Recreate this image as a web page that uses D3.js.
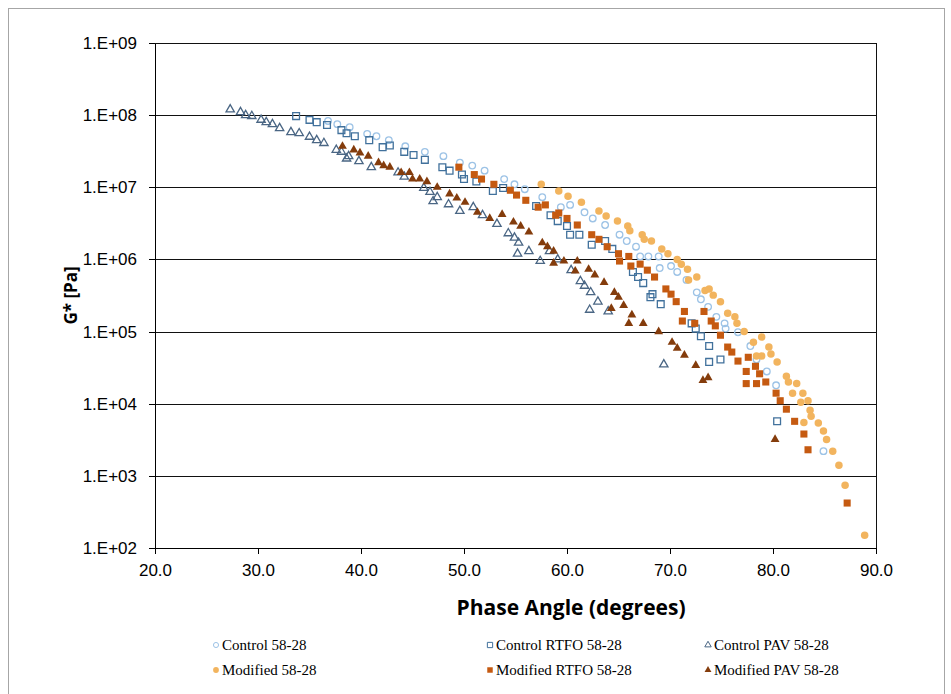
<!DOCTYPE html>
<meta charset="utf-8">
<html>
<head>
<script src="https://d3js.org/d3.v7.min.js" charset="utf-8"></script>
<style type="text/css">
    body { margin: 0; background: #fff; }
    .axis path, .axis line { fill: none; stroke: #000; shape-rendering: crispEdges; }
    .axis text { font-family: "Liberation Sans", Arial, sans-serif; font-size: 17px; fill: #000; }
    .grid line { stroke: #111; shape-rendering: crispEdges; }
    .grid path { display: none; }
    .legend text { font-family: "Liberation Serif", "Times New Roman", serif; font-size: 15px; fill: #000; }
</style>
</head>
<body>
<div id="chart"></div>
<script type="text/javascript">

// [phase angle (deg), G* (Pa)]
var control = [[36.8,8.3e7],[37.7,7.5e7],[38.9,6.8e7],[40.6,5.5e7],[41.5,5.1e7],[42.7,4.5e7],[44.3,3.7e7],[46.2,3.1e7],
    [48.0,2.7e7],[49.6,2.2e7],[50.8,2.0e7],[52.0,1.7e7],[53.9,1.3e7],[54.9,1.1e7],[55.9,9.4e6],[57.6,7.3e6],[59.4,5.3e6],
    [60.3,5.7e6],[61.7,4.5e6],[62.5,3.7e6],[63.7,3.0e6],[65.1,2.2e6],[65.8,1.8e6],[66.7,1.5e6],[67.1,1.1e6],[67.9,1.1e6],
    [68.9,1.1e6],[69.0,7.6e5],[70.1,8.1e5],[70.7,6.7e5],[71.6,5.2e5],[72.6,3.5e5],[73.0,2.8e5],[73.7,2.2e5],[74.5,1.6e5],
    [75.3,1.3e5],[75.4,1.1e5],[76.6,9.8e4],[77.8,6.3e4],[78.4,4.1e4],[79.4,2.8e4],[80.3,1.8e4],[84.9,2.2e3]];

var controlRTFO = [[33.7,9.7e7],[35.0,8.6e7],[35.7,8.0e7],[36.7,7.3e7],[38.1,6.2e7],[38.6,5.6e7],[39.4,5.1e7],[40.8,4.5e7],
    [42.1,3.6e7],[42.8,3.8e7],[44.2,3.1e7],[45.1,2.8e7],[46.2,2.4e7],[47.9,1.9e7],[48.6,1.7e7],[49.8,1.5e7],[50.0,1.3e7],
    [51.2,1.2e7],[52.8,8.9e6],[53.8,9.8e6],[57.0,5.5e6],[58.4,4.1e6],[59.1,3.4e6],[60.0,2.9e6],[60.3,2.2e6],[61.2,2.2e6],
    [62.4,1.6e6],[63.7,1.8e6],[64.4,1.4e6],[66.4,6.7e5],[66.9,5.7e5],[67.4,4.7e5],[68.1,3.0e5],[68.3,3.3e5],[69.1,2.4e5],
    [72.1,1.3e5],[72.5,1.1e5],[73.0,8.6e4],[73.8,6.3e4],[73.8,3.8e4],[74.9,4.1e4],[80.4,5.7e3]];

var controlPAV = [[27.3,1.2e8],[28.3,1.1e8],[28.8,1.0e8],[29.4,9.7e7],[30.3,8.6e7],[30.8,8.0e7],[31.4,7.5e7],[32.1,6.6e7],
    [33.2,5.8e7],[34.0,5.6e7],[35.0,5.0e7],[35.7,4.5e7],[36.4,4.1e7],[37.6,3.3e7],[38.1,3.1e7],[38.6,2.5e7],[38.8,2.7e7],
    [39.8,2.3e7],[41.0,1.9e7],[43.6,1.6e7],[44.2,1.4e7],[46.1,9.8e6],[46.7,8.6e6],[47.0,6.4e6],[47.4,7.3e6],[48.5,5.8e6],
    [49.6,4.7e6],[50.9,5.3e6],[51.8,4.1e6],[53.2,3.1e6],[54.3,2.3e6],[54.9,2.0e6],[55.3,1.7e6],[56.3,1.3e6],[55.2,1.2e6],
    [57.4,9.5e5],[58.3,1.3e6],[59.1,1.0e6],[60.4,7.1e5],[61.3,5.0e5],[61.7,4.3e5],[62.3,3.5e5],[63.0,2.6e5],[62.2,2.0e5],
    [64.0,1.9e5],[69.4,3.5e4]];

var modified = [[57.5,1.1e7],[59.2,8.9e6],[60.1,7.5e6],[61.4,6.2e6],[63.1,4.7e6],[63.8,4.0e6],[64.9,3.4e6],[65.9,2.9e6],
    [66.1,2.5e6],[67.3,2.2e6],[67.5,1.9e6],[68.2,1.8e6],[69.2,1.4e6],[69.8,1.2e6],[70.7,1.0e6],[71.1,8.6e5],[71.7,7.3e5],
    [71.8,5.2e5],[72.6,5.7e5],[73.4,3.7e5],[73.8,3.9e5],[74.2,3.2e5],[74.9,2.6e5],[75.6,1.8e5],[76.3,1.6e5],[76.5,1.3e5],
    [77.2,1.0e5],[78.1,7.1e4],[78.9,8.4e4],[79.6,6.1e4],[78.4,4.6e4],[78.9,4.6e4],[79.8,4.9e4],[80.4,3.8e4],[81.3,2.4e4],
    [81.5,2.0e4],[82.3,1.9e4],[81.9,1.4e4],[82.9,1.4e4],[83.4,1.1e4],[82.7,1.05e4],[83.6,8.1e3],[83.7,6.7e3],[83.0,5.5e3],
    [84.4,5.4e3],[84.9,4.2e3],[85.2,3.2e3],[85.8,2.2e3],[86.4,1.4e3],[87.0,7.4e2],[88.9,1.5e2]];

var modifiedRTFO = [[49.5,1.9e7],[51.0,1.5e7],[51.7,1.3e7],[52.9,1.1e7],[54.5,9.1e6],[55.1,7.8e6],[56.0,6.6e6],[57.2,5.3e6],
    [57.9,5.7e6],[58.9,4.1e6],[59.2,4.4e6],[60.0,3.7e6],[61.0,3.0e6],[62.4,2.2e6],[63.1,1.9e6],[63.9,1.5e6],[65.0,1.2e6],
    [66.0,1.1e6],[65.1,9.5e5],[66.2,8.1e5],[67.1,8.6e5],[67.8,7.1e5],[68.5,5.7e5],[69.6,3.9e5],[70.1,3.3e5],[70.6,2.6e5],
    [71.4,1.9e5],[71.2,1.4e5],[72.4,1.3e5],[73.3,1.9e5],[74.0,1.4e5],[74.4,1.2e5],[74.9,8.9e4],[75.6,6.1e4],[76.0,5.2e4],
    [76.6,3.9e4],[77.6,4.4e4],[77.4,2.8e4],[78.3,3.3e4],[78.7,2.6e4],[77.4,1.9e4],[78.4,1.9e4],[79.3,2.0e4],[80.3,1.4e4],
    [80.7,1.1e4],[81.3,8.4e3],[82.1,5.7e3],[83.0,3.8e3],[83.4,2.3e3],[87.2,4.2e2]];

var modifiedPAV = [[38.2,3.7e7],[39.3,3.3e7],[39.9,3.0e7],[40.7,2.7e7],[41.7,2.2e7],[42.2,2.0e7],[42.8,1.9e7],[43.9,1.6e7],
    [44.7,1.6e7],[45.0,1.3e7],[45.7,1.3e7],[46.4,1.2e7],[47.4,1.0e7],[48.6,8.1e6],[49.3,7.1e6],[50.1,6.2e6],[51.3,4.5e6],
    [52.5,3.7e6],[53.7,4.2e6],[54.8,3.3e6],[55.5,2.9e6],[56.3,2.4e6],[57.6,1.7e6],[58.1,1.5e6],[58.7,1.3e6],[58.7,8.9e5],
    [59.7,9.5e5],[61.0,9.5e5],[60.8,6.9e5],[62.1,7.3e5],[62.7,6.1e5],[63.6,4.8e5],[64.6,3.5e5],[65.0,3.0e5],[65.5,2.3e5],
    [64.3,2.1e5],[66.3,1.7e5],[66.0,1.3e5],[67.4,1.3e5],[68.9,1.0e5],[70.2,7.1e4],[70.7,5.9e4],[71.4,4.7e4],[72.5,3.4e4],
    [73.7,2.3e4],[73.2,2.1e4],[80.2,3.2e3]];

var seriesNames = ["Control 58-28", "Control RTFO 58-28", "Control PAV 58-28",
                   "Modified 58-28", "Modified RTFO 58-28", "Modified PAV 58-28"];
var seriesData = [control, controlRTFO, controlPAV, modified, modifiedRTFO, modifiedPAV];
var xTicks = [20, 30, 40, 50, 60, 70, 80, 90];
var yTicks = [1e2, 1e3, 1e4, 1e5, 1e6, 1e7, 1e8, 1e9];

// marker styles per series
var styles = [
    {shape: d3.symbolCircle,   size: 34, fill: "none",    stroke: "#9DC3E6"},
    {shape: d3.symbolSquare,   size: 46, fill: "none",    stroke: "#41719C"},
    {shape: d3.symbolTriangle, size: 30, fill: "none",    stroke: "#4A6684"},
    {shape: d3.symbolCircle,   size: 44, fill: "#F2B45E", stroke: "none"},
    {shape: d3.symbolSquare,   size: 50, fill: "#C55A11", stroke: "none"},
    {shape: d3.symbolTriangle, size: 34, fill: "#843C0C", stroke: "none"}
];

var width = 951, height = 694;
var plotLeft = 155, plotRight = 876, plotTop = 43, plotBottom = 548;

var svg = d3.select("#chart").append("svg")
    .attr("width", width)
    .attr("height", height);

// outer chart border
svg.append("rect")
    .attr("x", 8.5).attr("y", 8.5)
    .attr("width", 936).attr("height", 720)
    .attr("fill", "none")
    .attr("stroke", "#a6a6a6");

var xScale = d3.scaleLinear().domain([20, 90]).range([plotLeft, plotRight]);
var yScale = d3.scaleLog().domain([1e2, 1e9]).range([plotBottom, plotTop]);

// horizontal gridlines
svg.append("g")
    .attr("class", "grid")
    .attr("transform", "translate(" + plotLeft + ",0)")
    .call(d3.axisLeft(yScale).tickValues(yTicks).tickSize(-(plotRight - plotLeft)).tickFormat(""));

// right edge of plot area
svg.append("line")
    .attr("x1", plotRight + 0.5).attr("x2", plotRight + 0.5)
    .attr("y1", plotTop).attr("y2", plotBottom)
    .attr("stroke", "#111");

// axes
svg.append("g")
    .attr("class", "x axis")
    .attr("transform", "translate(0," + plotBottom + ")")
    .call(d3.axisBottom(xScale).tickValues(xTicks).tickSize(6).tickSizeOuter(0).tickPadding(10)
        .tickFormat(d3.format(".1f")));

svg.append("g")
    .attr("class", "y axis")
    .attr("transform", "translate(" + plotLeft + ",0)")
    .call(d3.axisLeft(yScale).tickValues(yTicks).tickSize(6).tickSizeOuter(0).tickPadding(12)
        .tickFormat(function(d) { return "1.E+" + d3.format("02d")(Math.round(Math.log10(d))); }));

// axis titles
svg.append("text")
    .attr("text-anchor", "middle")
    .attr("transform", "translate(571,615)")
    .style("font-family", "'Open Sans', sans-serif")
    .style("font-weight", "bold")
    .style("font-size", "21px")
    .text("Phase Angle (degrees)");

svg.append("text")
    .attr("text-anchor", "middle")
    .attr("transform", "translate(77," + ((plotTop + plotBottom) / 2) + ")rotate(-90)")
    .style("font-family", "'Open Sans', sans-serif")
    .style("font-weight", "bold")
    .style("font-size", "17px")
    .text("G* [Pa]");

// points
seriesData.forEach(function(data, i) {
    var st = styles[i];
    svg.append("g").selectAll("path")
        .data(data)
        .enter()
        .append("path")
        .attr("d", d3.symbol().type(st.shape).size(st.size))
        .attr("transform", function(d) {
            return "translate(" + xScale(d[0]) + "," + yScale(d[1]) + ")";
        })
        .attr("fill", st.fill)
        .attr("stroke", st.stroke)
        .attr("stroke-width", 1.3);
});

// legend
var legendX = [216, 490, 708];
var legendY = [645, 670];
var legend = svg.append("g").attr("class", "legend");
seriesNames.forEach(function(name, i) {
    var st = styles[i];
    var lx = legendX[i % 3], ly = legendY[Math.floor(i / 3)];
    legend.append("path")
        .attr("d", d3.symbol().type(st.shape).size(st.size * 0.6))
        .attr("transform", "translate(" + lx + "," + ly + ")")
        .attr("fill", st.fill)
        .attr("stroke", st.stroke)
        .attr("stroke-width", 1);
    legend.append("text")
        .attr("x", lx + 6)
        .attr("y", ly + 5)
        .text(name);
});

</script>
</body>
</html>
